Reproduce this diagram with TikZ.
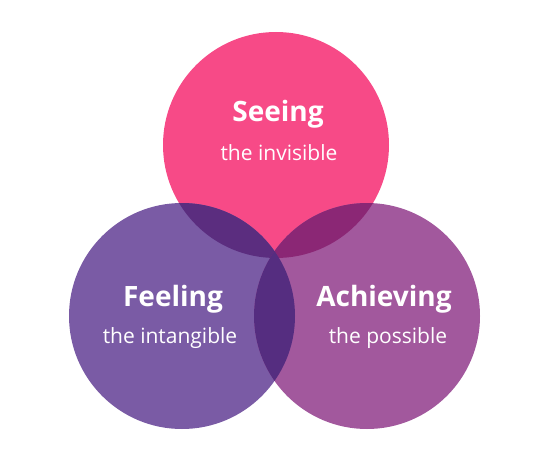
\documentclass[tikz,border=0pt]{standalone}
\usepackage{fontspec}
\setmainfont{Open Sans}
\usetikzlibrary{positioning}
\definecolor{seepink}{HTML}{F74A87}
\definecolor{feelpurple}{HTML}{7A5BA5}
\definecolor{achviolet}{HTML}{A2589D}
\definecolor{seefeel}{HTML}{5B2D7F}
\definecolor{seeach}{HTML}{8B2775}
\definecolor{feelach}{HTML}{552D80}
\tikzset{
 head/.style={text=white,font=\bfseries\fontsize{28}{31}\selectfont,inner sep=0pt},
 sub/.style={text=white,font=\fontsize{21}{24}\selectfont,inner sep=0pt}
}

\begin{document}
\begin{tikzpicture}[x=1pt,y=-1pt]
\useasboundingbox (0,0) rectangle (543,460);
% circles
\fill[seepink] (276,145) circle (113);
\fill[feelpurple] (182,316) circle (113);
\fill[achviolet] (367,316) circle (113);
% overlaps
\begin{scope}
 \clip (276,145) circle (113);
 \fill[seefeel] (182,316) circle (113);
 \fill[seeach] (367,316) circle (113);
\end{scope}
\begin{scope}
 \clip (182,316) circle (113);
 \fill[feelach] (367,316) circle (113);
\end{scope}
% labels
\node[head] (seeing) at (278,114) {Seeing};
\node[sub] (seeingsub) at (279,153) {the invisible};
\node[head] (feeling) at (173,299) {Feeling};
\node[sub] (feelingsub) at (170,338) {the intangible};
\node[head] (achieving) at (384,299) {Achieving};
\node[sub] (achievingsub) at (388,338) {the possible};
\end{tikzpicture}
\end{document}
